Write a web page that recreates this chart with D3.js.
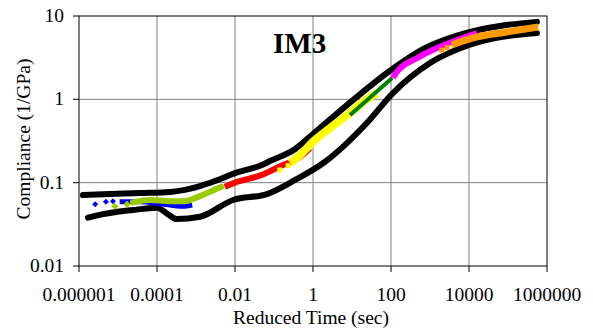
<!DOCTYPE html>
<html lang="en">
<head>
    <meta charset="UTF-8">
    <title>IM3 Compliance</title>
    <script src="https://cdnjs.cloudflare.com/ajax/libs/d3/7.8.4/d3.min.js"></script>
    <style>
        body { margin: 0; background: #fff; }
        svg { display: block; font-family: "Liberation Serif", "Times New Roman", serif; }
    </style>
</head>
<body>
    <svg width="593" height="333"></svg>

    <script>
        // tick values / labels
        const xTicks = [1e-6, 1e-4, 1e-2, 1, 100, 1e4, 1e6];
        const xTickLabels = ["0.000001", "0.0001", "0.01", "1", "100", "10000", "1000000"];
        const yTicks = [0.01, 0.1, 1, 10];
        const yTickLabels = ["0.01", "0.1", "1", "10"];

        // black bounds [time, compliance]
        const upperBound = [[1.26e-6, 0.071], [6.2e-6, 0.073], [3.7e-5, 0.075], [2.2e-4, 0.0775], [5.2e-4, 0.082],
            [1.26e-3, 0.091], [3.1e-3, 0.105], [0.01, 0.13], [0.049, 0.163], [0.079, 0.182], [0.35, 0.254],
            [1, 0.384], [10.6, 0.98], [100, 2.25], [661, 4.0], [1e4, 6.4], [6.2e4, 7.6], [5.5e5, 8.5]];
        const lowerBound = [[1.7e-6, 0.038], [2.6e-6, 0.040], [2.4e-5, 0.047], [1e-4, 0.050], [1.8e-4, 0.0426],
            [3.2e-4, 0.0366], [1.26e-3, 0.039], [8.9e-3, 0.062], [0.066, 0.073], [0.35, 0.108], [2.0, 0.177],
            [24, 0.52], [112, 1.19], [1000, 2.73], [1e4, 4.49], [5.5e5, 6.25]];

        // measured segments
        const blueSparse = [[2.6e-6, 0.055], [4.9e-6, 0.059], [7.4e-6, 0.06]];
        const blueBand = [[1.1e-5, 0.059], [3.6e-5, 0.059], [1.2e-4, 0.056], [4.6e-4, 0.052], [8e-4, 0.054]];
        const limeSparse = [[8.3e-6, 0.052], [1.7e-5, 0.055]];
        const limeBand = [[2.4e-5, 0.058], [6.6e-5, 0.062], [2.1e-4, 0.06], [5.2e-4, 0.06], [1.26e-3, 0.069],
            [2.3e-3, 0.078], [4.4e-3, 0.089]];
        const redBand = [[5.5e-3, 0.089], [0.01, 0.10], [0.049, 0.124], [0.17, 0.163], [0.35, 0.187],
            [0.62, 0.227], [0.83, 0.26]];
        const yellowSparse = [[0.14, 0.142], [0.23, 0.16]];
        const yellowBand = [[0.26, 0.172], [0.47, 0.215], [1, 0.31], [2.7, 0.45], [8.9, 0.69], [21, 0.955], [43, 1.19]];
        const greenBand = [[8.9, 0.65], [29, 1.05], [107, 1.8]];
        const magentaBand = [[112, 1.8], [141, 2.13], [468, 3.13], [1514, 4.13], [4900, 5.15], [1.6e4, 6.25]];
        const orangeSparse = [[2000, 3.9], [2750, 4.2]];
        const orangeBand = [[3600, 4.49], [1.26e4, 5.45], [9.3e4, 6.43], [5.9e5, 7.38]];

        const svg = d3.select("svg");
        const plotLeft = 79, plotRight = 547, plotTop = 16, plotBottom = 266;

        const x = d3.scaleLog().domain([1e-6, 1e6]).range([plotLeft, plotRight]);
        const y = d3.scaleLog().domain([0.01, 10]).range([plotBottom, plotTop]);

        // grid
        svg.append("g").selectAll("line").data(xTicks.slice(1, -1)).enter().append("line")
            .attr("x1", d => x(d)).attr("x2", d => x(d))
            .attr("y1", plotTop).attr("y2", plotBottom)
            .style("stroke", "#808080").style("stroke-width", 1);
        svg.append("g").selectAll("line").data(yTicks.slice(1, -1)).enter().append("line")
            .attr("x1", plotLeft).attr("x2", plotRight)
            .attr("y1", d => y(d)).attr("y2", d => y(d))
            .style("stroke", "#808080").style("stroke-width", 1);

        const line = d3.line()
            .x(d => x(d[0]))
            .y(d => y(d[1]))
            .curve(d3.curveMonotoneX);

        function band(data, color, width, cap) {
            svg.append("path")
                .datum(data)
                .attr("d", line)
                .style("fill", "none")
                .style("stroke", color)
                .style("stroke-width", width)
                .style("stroke-linecap", cap || "butt");
        }

        function diamonds(data, color, r) {
            svg.append("g").selectAll("path").data(data).enter().append("path")
                .attr("d", `M0,${-r}L${r},0L0,${r}L${-r},0Z`)
                .attr("transform", d => `translate(${x(d[0])},${y(d[1])})`)
                .style("fill", color);
        }

        function squares(data, color, s) {
            svg.append("g").selectAll("rect").data(data).enter().append("rect")
                .attr("x", d => x(d[0]) - s / 2)
                .attr("y", d => y(d[1]) - s / 2)
                .attr("width", s).attr("height", s)
                .style("fill", color);
        }

        band(upperBound, "#000", 6, "round");
        band(lowerBound, "#000", 6, "round");

        band(blueBand, "#0000ff", 5);
        diamonds(blueSparse, "#0000ff", 3);
        band(limeBand, "#99cc00", 6, "round");
        diamonds(limeSparse, "#99cc00", 3.5);
        band(redBand, "#ff0000", 6);
        band(yellowBand, "#ffff00", 8);
        squares(yellowSparse, "#ffff00", 5);
        band(greenBand, "#008000", 4);
        band(magentaBand, "#ff00ff", 6);
        band(orangeBand, "#ff9900", 7);
        squares(orangeSparse, "#ff9900", 5);

        // frame
        svg.append("rect")
            .attr("x", plotLeft).attr("y", plotTop)
            .attr("width", plotRight - plotLeft).attr("height", plotBottom - plotTop)
            .style("fill", "none").style("stroke", "#000").style("stroke-width", 1);

        // ticks and labels
        svg.append("g").selectAll("line").data(xTicks).enter().append("line")
            .attr("x1", d => x(d)).attr("x2", d => x(d))
            .attr("y1", plotBottom).attr("y2", plotBottom + 6)
            .style("stroke", "#000");
        svg.append("g").selectAll("text").data(xTicks).enter().append("text")
            .attr("x", d => x(d)).attr("y", 301)
            .attr("text-anchor", "middle")
            .style("font-size", "19.5px")
            .text((d, i) => xTickLabels[i]);

        svg.append("g").selectAll("line").data(yTicks).enter().append("line")
            .attr("x1", plotLeft - 6).attr("x2", plotLeft)
            .attr("y1", d => y(d)).attr("y2", d => y(d))
            .style("stroke", "#000");
        svg.append("g").selectAll("text").data(yTicks).enter().append("text")
            .attr("x", 64).attr("y", d => y(d) + 6)
            .attr("text-anchor", "end")
            .style("font-size", "19.5px")
            .text((d, i) => yTickLabels[i]);

        // titles
        svg.append("text")
            .attr("x", 311).attr("y", 324)
            .attr("text-anchor", "middle")
            .style("font-size", "19.5px")
            .text("Reduced Time (sec)");
        svg.append("text")
            .attr("transform", "translate(29.5,139) rotate(-90)")
            .attr("text-anchor", "middle")
            .style("font-size", "19.5px")
            .text("Compliance (1/GPa)");
        svg.append("text")
            .attr("x", 273).attr("y", 53)
            .style("font-size", "29px")
            .style("font-weight", "bold")
            .text("IM3");
    </script>
</body>
</html>
